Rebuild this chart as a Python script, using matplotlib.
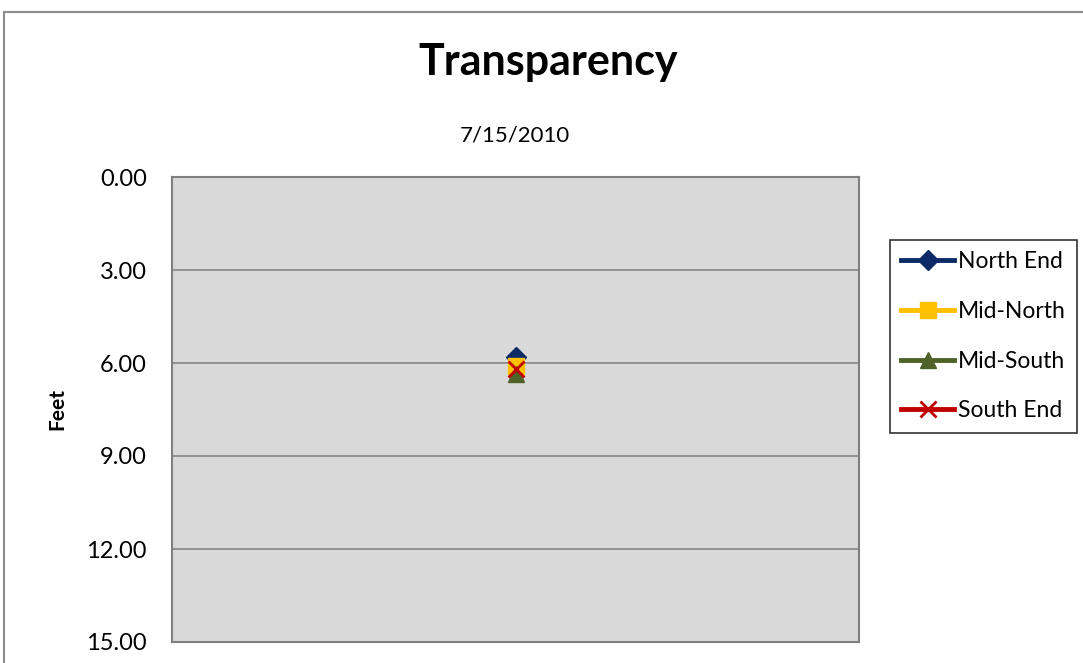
import matplotlib.pyplot as plt
from matplotlib.patches import Rectangle

plt.rcParams['font.family'] = ['Lato', 'DejaVu Sans']

# data
dates = ["7/15/2010"]
series = ["North End", "Mid-North", "Mid-South", "South End"]
north_end = [5.8]
mid_north = [6.1]
mid_south = [6.35]
south_end = [6.2]
y_ticks = [0, 3, 6, 9, 12, 15]

COLORS = ["#0b2a66", "#ffc000", "#4f6228", "#c00000"]
MARKERS = ["D", "s", "^", "x"]
MSIZE = [10, 12, 12, 12]

fig = plt.figure(figsize=(10.83, 6.63), dpi=100)
ax = fig.add_axes([172 / 1083, 1 - 642 / 663, 687 / 1083, 465 / 663])

# outer chart border
fig.patches.append(Rectangle((4 / 1083, -0.2), 1.2, 1.2 - 12 / 663,
                             transform=fig.transFigure, fill=False,
                             edgecolor="#8c8c8c", linewidth=1.5))

ax.set_facecolor("#d9d9d9")
x = list(range(len(dates)))
for vals, name, col, mk, ms in zip([north_end, mid_north, mid_south, south_end],
                                   series, COLORS, MARKERS, MSIZE):
    ax.plot(x, vals, color=col, marker=mk, markersize=ms, linewidth=3.5,
            markeredgewidth=2 if mk == "x" else 1, label=name, zorder=3)

ax.set_xlim(-0.5, 0.5)
ax.set_xticks([])
ax.set_ylim(15, 0)
ax.set_yticks(y_ticks)
ax.set_yticklabels([f"{v:.2f}" for v in y_ticks], fontsize=17)
ax.tick_params(axis="y", length=0, pad=18)
ax.grid(axis="y", color="#868686", linewidth=1.2)
ax.set_axisbelow(True)
for sp in ax.spines.values():
    sp.set_color("#808080")
    sp.set_linewidth(1.5)

ax.set_ylabel("Feet", fontsize=15, fontweight="bold", labelpad=14)

fig.text(548 / 1083, 1 - 62 / 663, "Transparency", ha="center", va="center",
         fontsize=31, fontweight="bold")
fig.text(515 / 1083, 1 - 136 / 663, dates[0], ha="center", va="center",
         fontsize=16)

leg = fig.legend(loc="upper left", bbox_to_anchor=(890 / 1083, 1 - 240 / 663),
                 fontsize=16.5, frameon=True, fancybox=False, edgecolor="black",
                 handlelength=2.3, handletextpad=0.15, labelspacing=1.25,
                 borderpad=0.5, borderaxespad=0)
leg.get_frame().set_linewidth(1.2)

fig.savefig("out.png", dpi=100, facecolor="white")
